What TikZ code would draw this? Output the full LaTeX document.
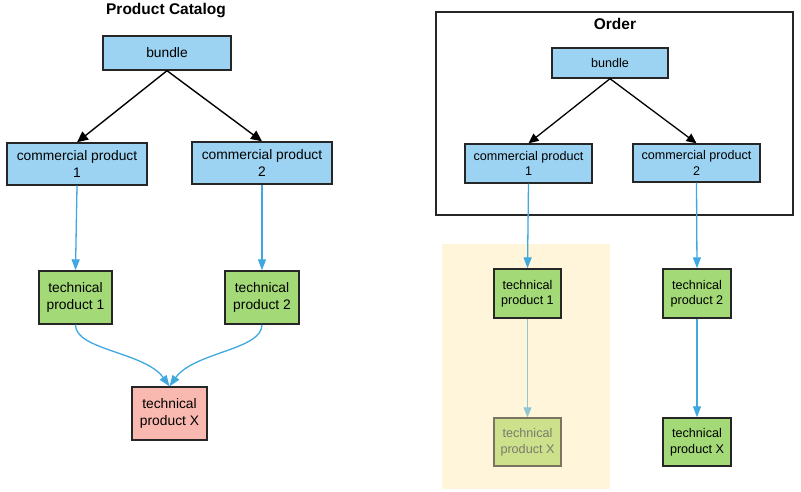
\documentclass[tikz,border=0pt]{standalone}
\usepackage{fontspec}
\setmainfont{Liberation Sans}
\usetikzlibrary{arrows.meta}
\definecolor{bluefill}{HTML}{9DD3F2}
\definecolor{greenfill}{HTML}{A3D977}
\definecolor{pinkfill}{HTML}{F9B8B0}
\definecolor{arrowblue}{HTML}{3EA8DF}
\definecolor{yellowbg}{HTML}{FEF5DA}
\definecolor{fadegreen}{HTML}{CDE18D}
\definecolor{fadeborder}{HTML}{7A7460}
\definecolor{fadetext}{HTML}{7A7A6A}
\definecolor{fadearrow}{HTML}{8EC6D4}
\tikzset{
  x=1pt, y=-1pt,
  box/.style={draw=black!85, line width=1.4pt, inner sep=0pt, align=center, anchor=center},
  bigtext/.style={font=\fontsize{13.8}{17}\selectfont},
  smalltext/.style={font=\fontsize{12.6}{15.5}\selectfont},
  blackarrow/.style={draw=black, line width=1.4pt, -{Triangle[length=11pt,width=10pt]}},
  bluearrow/.style={draw=arrowblue, line width=1.3pt, -{Triangle[length=11pt,width=8pt]}},
  fadearr/.style={draw=fadearrow, line width=1.2pt, -{Triangle[length=10pt,width=8pt]}},
  titletext/.style={font=\fontsize{15.5}{18}\selectfont\bfseries}
}
\begin{document}
\begin{tikzpicture}
\useasboundingbox (0,0) rectangle (801,492);
% ---------- Left: Product Catalog ----------
\node[titletext] (t1) at (166,11) {Product Catalog};
\node[box, bigtext, fill=bluefill, minimum width=128pt, minimum height=34pt] (lb) at (167,53) {bundle};
\node[box, bigtext, fill=bluefill, minimum width=140pt, minimum height=42pt] (lc1) at (77,164) {commercial product\\1};
\node[box, bigtext, fill=bluefill, minimum width=140pt, minimum height=42pt] (lc2) at (262,163) {commercial product\\2};
\node[box, bigtext, fill=greenfill, minimum width=73pt, minimum height=53pt] (lt1) at (75.5,297.5) {technical\\product 1};
\node[box, bigtext, fill=greenfill, minimum width=74pt, minimum height=53pt] (lt2) at (262,297.5) {technical\\product 2};
\node[box, bigtext, fill=pinkfill, minimum width=75pt, minimum height=53pt] (ltx) at (169.5,413.5) {technical\\product X};
\draw[blackarrow] (lb.south) -- (lc1.north);
\draw[blackarrow] (lb.south) -- (lc2.north);
\draw[bluearrow] (lc1.south) -- (lt1.north);
\draw[bluearrow] (lc2.south) -- (lt2.north);
\draw[bluearrow] (lt1.south) .. controls (75,350) and (145,352) .. (ltx.north);
\draw[bluearrow] (lt2.south) .. controls (262,350) and (194,352) .. (ltx.north);
% ---------- Right: Order ----------
\node[draw=black!85, line width=1.4pt, minimum width=357pt, minimum height=203pt, inner sep=0pt] (ord) at (614.5,113.5) {};
\node[titletext] (t2) at (615,24) {Order};
\node[fill=yellowbg, minimum width=168pt, minimum height=245pt, inner sep=0pt] (ybg) at (526,366.5) {};
\node[box, smalltext, fill=bluefill, minimum width=116pt, minimum height=30pt] (rb) at (610,63) {bundle};
\node[box, smalltext, fill=bluefill, minimum width=127pt, minimum height=39pt] (rc1) at (528.5,163.5) {commercial product\\1};
\node[box, smalltext, fill=bluefill, minimum width=127pt, minimum height=38pt] (rc2) at (696.5,163) {commercial product\\2};
\node[box, smalltext, fill=greenfill, minimum width=67pt, minimum height=49pt] (rt1) at (527.5,293.5) {technical\\product 1};
\node[box, smalltext, fill=greenfill, minimum width=68pt, minimum height=49pt] (rt2) at (697,293.5) {technical\\product 2};
\node[box, smalltext, draw=fadeborder, fill=fadegreen, text=fadetext, minimum width=67pt, minimum height=48pt] (rtx1) at (527.5,442) {technical\\product X};
\node[box, smalltext, fill=greenfill, minimum width=68pt, minimum height=48pt] (rtx2) at (697,442) {technical\\product X};
\draw[blackarrow, line width=1.3pt, -{Triangle[length=10pt,width=9pt]}] (rb.south) -- (rc1.north);
\draw[blackarrow, line width=1.3pt, -{Triangle[length=10pt,width=9pt]}] (rb.south) -- (rc2.north);
\draw[bluearrow] (rc1.south) -- (rt1.north);
\draw[bluearrow] (rc2.south) -- (rt2.north);
\draw[fadearr] (rt1.south) -- (rtx1.north);
\draw[bluearrow] (rt2.south) -- (rtx2.north);
\end{tikzpicture}
\end{document}
